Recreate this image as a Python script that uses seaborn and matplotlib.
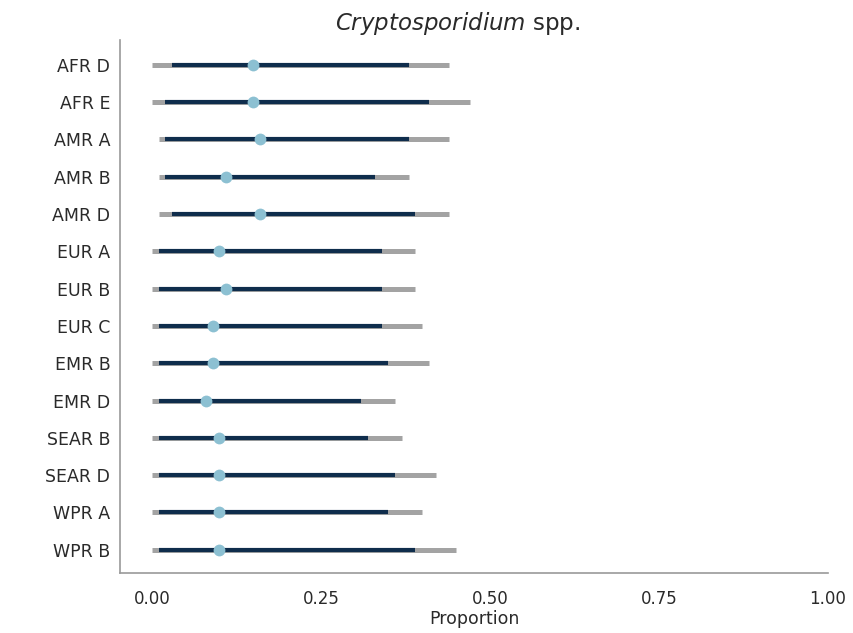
import matplotlib
matplotlib.use("Agg")
import matplotlib.pyplot as plt
import seaborn as sns
import pandas as pd

# values
regions = ["AFR D", "AFR E", "AMR A", "AMR B", "AMR D", "EUR A", "EUR B",
           "EUR C", "EMR B", "EMR D", "SEAR B", "SEAR D", "WPR A", "WPR B"]
median = [0.15, 0.15, 0.16, 0.11, 0.16, 0.10, 0.11, 0.09, 0.09, 0.08, 0.10, 0.10, 0.10, 0.10]
lo90 = [0.03, 0.02, 0.02, 0.02, 0.03, 0.01, 0.01, 0.01, 0.01, 0.01, 0.01, 0.01, 0.01, 0.01]
hi90 = [0.38, 0.41, 0.38, 0.33, 0.39, 0.34, 0.34, 0.34, 0.35, 0.31, 0.32, 0.36, 0.35, 0.39]
lo95 = [0.00, 0.00, 0.01, 0.01, 0.01, 0.00, 0.00, 0.00, 0.00, 0.00, 0.00, 0.00, 0.00, 0.00]
hi95 = [0.44, 0.47, 0.44, 0.38, 0.44, 0.39, 0.39, 0.40, 0.41, 0.36, 0.37, 0.42, 0.40, 0.45]

df = pd.DataFrame({"region": regions, "median": median,
                   "lo90": lo90, "hi90": hi90, "lo95": lo95, "hi95": hi95})

sns.set_style("white")
plt.rcParams["font.family"] = ["DejaVu Sans"]
plt.rcParams["mathtext.fontset"] = "dejavusans"

fig = plt.figure(figsize=(8.54, 6.33), dpi=100)
ax = fig.add_axes([0.1405, 0.095, 0.829, 0.842])

sns.stripplot(data=df, x="median", y="region", order=regions, jitter=False,
              color="#8cc0d2", size=8.5, linewidth=0, zorder=4, ax=ax)
ax.hlines(df["region"], df["lo95"], df["hi95"], color="#a3a3a3", lw=3.6, zorder=2)
ax.hlines(df["region"], df["lo90"], df["hi90"], color="#0f2d4c", lw=3.0, zorder=3)

ax.set_xlim(-0.047, 1.0)
ax.set_ylim(len(regions) - 0.38, -0.67)
ax.set_xticks([0, 0.25, 0.5, 0.75, 1.0])
ax.set_xticklabels(["0.00", "0.25", "0.50", "0.75", "1.00"])
ax.set_xlabel("Proportion", fontsize=12.5, color="#2a2a2a", labelpad=2)
ax.set_ylabel("")
ax.set_title("$\\it{Cryptosporidium}$ spp.", fontsize=16.5, color="#2a2a2a",
             x=0.477, pad=7)

sns.despine(ax=ax)
for side in ["left", "bottom"]:
    ax.spines[side].set_color("#9a9a9a")
    ax.spines[side].set_linewidth(1.2)
ax.tick_params(axis="both", colors="#9a9a9a", length=5, width=1.2,
               labelsize=12, labelcolor="#2a2a2a")
ax.tick_params(axis="y", labelsize=12.5, pad=2)
ax.tick_params(axis="x", pad=7)
ax.grid(False)

fig.savefig("out.png", dpi=100)
